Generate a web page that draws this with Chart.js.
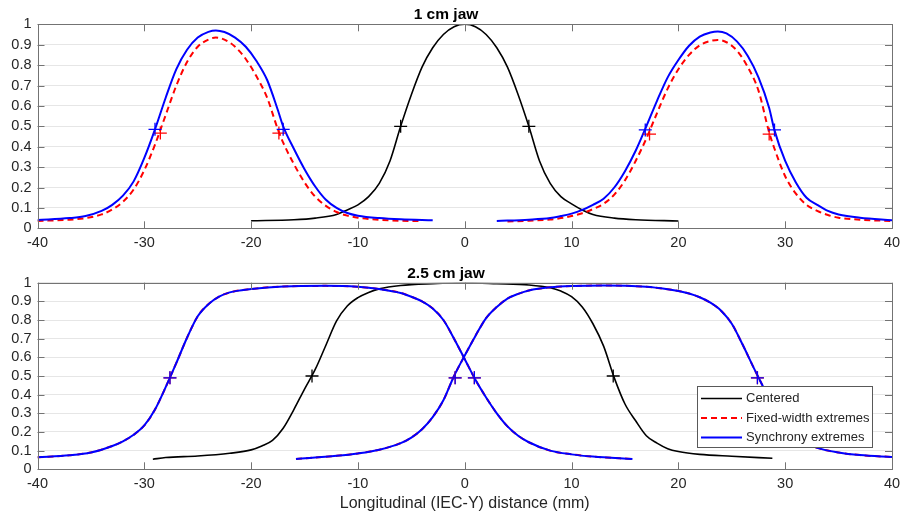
<!DOCTYPE html>
<html>
<head>
<meta charset="utf-8">
<script src="https://cdn.jsdelivr.net/npm/chart.js@4.4.1/dist/chart.umd.min.js"></script>
<style>
  html, body { margin: 0; padding: 0; background: #fff; }
  #wrap { position: relative; width: 910px; height: 516px; }
  canvas { position: absolute; left: 0; }
</style>
</head>
<body>
<div id="wrap">
  <canvas id="topChart" width="910" height="250" style="top:0"></canvas>
  <canvas id="bottomChart" width="910" height="266" style="top:250px"></canvas>
</div>
<script>
// -------- 1 cm jaw (top panel) --------
const topCenteredX = [-20, -16, -14, -12, -11, -10, -9, -8, -7, -6, -5, -4, -3, -2, -1, 0, 1, 2, 3, 4, 5, 6, 7, 8, 9, 10, 11, 12, 14, 16, 20];
const topCenteredY = [0.037, 0.042, 0.05, 0.068, 0.09, 0.115, 0.155, 0.22, 0.33, 0.5, 0.655, 0.79, 0.885, 0.95, 0.988, 1.0, 0.988, 0.95, 0.885, 0.79, 0.655, 0.5, 0.33, 0.22, 0.155, 0.12, 0.09, 0.068, 0.05, 0.042, 0.036];

const topSyncLX = [-40, -37, -35.5, -34, -33, -32, -31, -30, -29, -28, -27, -26, -25, -24, -23.3, -22.5, -21.5, -20.5, -19.5, -18.5, -17.5, -17, -16, -15, -14, -13, -12, -11, -10, -8, -6, -3];
const topSyncLY = [0.041, 0.05, 0.06, 0.085, 0.115, 0.16, 0.23, 0.345, 0.485, 0.64, 0.78, 0.875, 0.935, 0.963, 0.97, 0.962, 0.935, 0.89, 0.82, 0.727, 0.58, 0.5, 0.39, 0.29, 0.205, 0.14, 0.1, 0.075, 0.062, 0.05, 0.044, 0.04];
const topFixedLX = [-40, -37, -35.5, -34, -33, -32, -31, -30, -29, -28, -27, -26, -25, -24, -23.3, -22.5, -21.5, -20.5, -19.5, -18.5, -17.5, -17, -16, -15, -14, -13, -12, -11, -10, -8, -6, -4];
const topFixedLY = [0.036, 0.042, 0.05, 0.068, 0.092, 0.13, 0.19, 0.285, 0.41, 0.555, 0.7, 0.815, 0.89, 0.925, 0.935, 0.925, 0.89, 0.83, 0.745, 0.64, 0.485, 0.42, 0.315, 0.225, 0.155, 0.11, 0.08, 0.062, 0.052, 0.042, 0.037, 0.035];

const topSyncRX = [3, 6, 8, 9, 10, 11, 12, 13, 14, 15, 16, 17, 18, 19, 20, 21, 22, 23, 23.7, 24.5, 25.5, 26.5, 27.5, 28.5, 29, 30, 31, 32, 33, 34, 35, 37, 40];
const topSyncRY = [0.036, 0.042, 0.05, 0.06, 0.072, 0.09, 0.115, 0.145, 0.2, 0.28, 0.38, 0.5, 0.625, 0.74, 0.825, 0.895, 0.94, 0.96, 0.965, 0.955, 0.915, 0.845, 0.74, 0.59, 0.48, 0.33, 0.225, 0.15, 0.115, 0.085, 0.068, 0.052, 0.04];
const topFixedRX = [4, 6, 8, 9, 10, 11, 12, 13, 14, 15, 16, 17, 18, 19, 20, 21, 22, 23, 23.7, 24.5, 25.5, 26.5, 27.5, 28.5, 29, 30, 31, 32, 33, 34, 35, 37, 40];
const topFixedRY = [0.033, 0.037, 0.043, 0.05, 0.06, 0.074, 0.094, 0.12, 0.165, 0.235, 0.33, 0.44, 0.565, 0.685, 0.78, 0.85, 0.897, 0.918, 0.923, 0.912, 0.87, 0.79, 0.675, 0.47, 0.39, 0.255, 0.17, 0.115, 0.085, 0.065, 0.052, 0.042, 0.036];

// half-maximum markers
const topCenteredHalfX = [-6, 6];
const topCenteredHalfY = [0.5, 0.5];
const topSyncHalfX = [-29, -17, 16.9, 29];
const topSyncHalfY = [0.485, 0.485, 0.482, 0.482];
const topFixedHalfX = [-28.5, -17.4, 17.3, 28.5];
const topFixedHalfY = [0.467, 0.467, 0.462, 0.462];

// -------- 2.5 cm jaw (bottom panel) --------
const botCenteredX = [-29.2, -28, -25, -22, -20, -19, -18, -17, -16, -15, -14, -13, -12, -11, -10, -9, -8, -6, -3, 0, 3, 6, 8, 9, 10, 11, 12, 13, 14, 15, 16, 17, 18, 19, 20, 22, 25, 28.8];
const botCenteredY = [0.054, 0.063, 0.071, 0.086, 0.104, 0.125, 0.155, 0.22, 0.32, 0.43, 0.535, 0.665, 0.795, 0.875, 0.92, 0.948, 0.967, 0.985, 0.995, 1.0, 0.995, 0.988, 0.973, 0.955, 0.925, 0.87, 0.78, 0.66, 0.49, 0.35, 0.26, 0.18, 0.14, 0.11, 0.095, 0.08, 0.07, 0.059];

const botSyncLX = [-40, -37, -35, -33, -32, -31, -30, -29, -28, -27, -26, -25, -24, -23, -22, -20, -17, -13, -10, -8, -6, -5, -4, -3, -2, -1, 0, 1, 2, 3, 4, 5, 6, 8, 10, 12, 15.7];
const botSyncLY = [0.064, 0.075, 0.09, 0.125, 0.15, 0.185, 0.235, 0.32, 0.44, 0.57, 0.705, 0.82, 0.885, 0.925, 0.948, 0.966, 0.98, 0.983, 0.978, 0.966, 0.945, 0.925, 0.9, 0.862, 0.8, 0.7, 0.59, 0.48, 0.385, 0.3, 0.23, 0.18, 0.145, 0.1, 0.08, 0.068, 0.055];
const botSyncRX = [-15.8, -12, -10, -8, -6, -5, -4, -3, -2, -1, 0, 1, 2, 3, 4, 5, 6, 8, 10, 13, 17, 19, 20, 21, 22, 23, 24, 25, 26, 27, 28, 29, 30, 31, 32, 33, 35, 37, 40];
const botSyncRY = [0.055, 0.072, 0.085, 0.105, 0.14, 0.17, 0.215, 0.28, 0.37, 0.5, 0.61, 0.715, 0.81, 0.87, 0.915, 0.94, 0.958, 0.975, 0.982, 0.985, 0.978, 0.965, 0.956, 0.942, 0.922, 0.893, 0.85, 0.78, 0.67, 0.55, 0.435, 0.32, 0.235, 0.18, 0.14, 0.115, 0.09, 0.076, 0.066];
// fixed-width extremes lie on top of the synchrony curves in this panel
const botFixedLX = botSyncLX, botFixedLY = botSyncLY;
const botFixedRX = botSyncRX, botFixedRY = botSyncRY;

const botCenteredHalfX = [-14.3, 13.9];
const botCenteredHalfY = [0.5, 0.5];
const botSyncHalfX = [-27.6, -0.9, 0.9, 27.4];
const botSyncHalfY = [0.49, 0.49, 0.49, 0.49];
const botFixedHalfX = [-27.6, -0.9, 0.9, 27.4];
const botFixedHalfY = [0.49, 0.49, 0.49, 0.49];

const legendLabels = ['Centered', 'Fixed-width extremes', 'Synchrony extremes'];

// -------- styling --------
const FONT = '"Liberation Sans", Arial, Helvetica, sans-serif';
const TEXT = '#262626';
const BLACK = '#000000', RED = '#ff0000', BLUE = '#0000ff';

const pts = (xs, ys) => xs.map((x, i) => ({ x, y: ys[i] }));

function curve(xs, ys, color, order, dashed) {
    return {
        data: pts(xs, ys),
        showLine: true,
        borderColor: color,
        borderWidth: color === BLACK ? 1.6 : 2,
        borderDash: dashed ? [6, 4] : [],
        pointRadius: 0,
        cubicInterpolationMode: 'monotone',
        order
    };
}

function marks(xs, ys, color, order) {
    return {
        data: pts(xs, ys),
        showLine: false,
        pointStyle: 'cross',
        pointRadius: 6.5,
        pointBorderWidth: 1.3,
        borderColor: color,
        backgroundColor: color,
        order
    };
}

// MATLAB-like box with inward tick marks
const boxAxes = {
    id: 'boxAxes',
    afterDatasetsDraw(chart) {
        const { ctx, chartArea: a, scales: { x, y } } = chart;
        const len = 7;
        ctx.save();
        ctx.strokeStyle = '#737373';
        ctx.lineWidth = 1;
        ctx.beginPath();
        x.ticks.forEach(t => {
            const px = Math.round(x.getPixelForValue(t.value)) + 0.5;
            ctx.moveTo(px, a.bottom); ctx.lineTo(px, a.bottom - len);
            ctx.moveTo(px, a.top); ctx.lineTo(px, a.top + len);
        });
        y.ticks.forEach(t => {
            const py = Math.round(y.getPixelForValue(t.value)) + 0.5;
            ctx.moveTo(a.left, py); ctx.lineTo(a.left + len, py);
            ctx.moveTo(a.right, py); ctx.lineTo(a.right - len, py);
        });
        ctx.stroke();
        ctx.strokeRect(Math.round(a.left) + 0.5, Math.round(a.top) + 0.5,
            Math.round(a.right) - Math.round(a.left), Math.round(a.bottom) - Math.round(a.top));
        ctx.restore();
    }
};

// legend box inside the lower panel
const legendBox = {
    id: 'legendBox',
    afterDraw(chart) {
        const { ctx, chartArea: a } = chart;
        const x0 = Math.round(a.right - 195), y0 = Math.round(a.bottom - 83);
        const styles = [
            { color: BLACK, width: 1.6, dash: [] },
            { color: RED, width: 2, dash: [6, 4] },
            { color: BLUE, width: 2, dash: [] }
        ];
        ctx.save();
        ctx.fillStyle = '#fff';
        ctx.fillRect(x0, y0, 175, 61);
        ctx.strokeStyle = '#595959';
        ctx.lineWidth = 1;
        ctx.strokeRect(x0 + 0.5, y0 + 0.5, 175, 61);
        ctx.font = '13px ' + FONT;
        ctx.textBaseline = 'middle';
        legendLabels.forEach((label, i) => {
            const cy = y0 + 12.5 + i * 19.5;
            const s = styles[i];
            ctx.beginPath();
            ctx.strokeStyle = s.color;
            ctx.lineWidth = s.width;
            ctx.setLineDash(s.dash);
            ctx.moveTo(x0 + 4, cy);
            ctx.lineTo(x0 + 45, cy);
            ctx.stroke();
            ctx.setLineDash([]);
            ctx.fillStyle = TEXT;
            ctx.fillText(label, x0 + 49, cy);
        });
        ctx.restore();
    }
};

function makeOptions(title, titlePad, xHeight, tickPad, xTitle) {
    return {
        responsive: false,
        animation: false,
        layout: { padding: { left: 0, right: 18, top: 0, bottom: 0 } },
        plugins: {
            legend: { display: false },
            tooltip: { enabled: false },
            title: {
                display: true,
                text: title,
                color: '#000',
                font: { family: FONT, size: 15.5, weight: 'bold', lineHeight: 1.2 },
                padding: titlePad
            }
        },
        scales: {
            x: {
                type: 'linear',
                min: -40, max: 40,
                grid: { display: false, drawTicks: false },
                border: { display: false },
                ticks: { stepSize: 10, padding: tickPad, autoSkip: false, maxRotation: 0, color: TEXT, font: { family: FONT, size: 14.5 } },
                title: xTitle ? {
                    display: true, text: xTitle, color: TEXT,
                    font: { family: FONT, size: 16, lineHeight: 1.2 },
                    padding: { top: 0, bottom: 3 }
                } : { display: false },
                afterFit: s => { s.height = xHeight; }
            },
            y: {
                min: 0, max: 1,
                grid: { color: '#e6e6e6', drawTicks: false },
                border: { display: false },
                ticks: {
                    stepSize: 0.1, padding: 6, autoSkip: false, color: TEXT,
                    font: { family: FONT, size: 14.5 },
                    callback: v => String(+v.toFixed(1))
                },
                afterFit: s => { s.width = 37.5; }
            }
        }
    };
}

new Chart(document.getElementById('topChart').getContext('2d'), {
    type: 'scatter',
    data: {
        datasets: [
            marks(topSyncHalfX, topSyncHalfY, BLUE, 0),
            marks(topFixedHalfX, topFixedHalfY, RED, 1),
            marks(topCenteredHalfX, topCenteredHalfY, BLACK, 2),
            curve(topSyncLX, topSyncLY, BLUE, 3),
            curve(topSyncRX, topSyncRY, BLUE, 3),
            curve(topFixedLX, topFixedLY, RED, 4, true),
            curve(topFixedRX, topFixedRY, RED, 4, true),
            curve(topCenteredX, topCenteredY, BLACK, 5)
        ]
    },
    options: makeOptions('1 cm jaw', { top: 5.5, bottom: 0.2 }, 21.7, 6, null),
    plugins: [boxAxes]
});

new Chart(document.getElementById('bottomChart').getContext('2d'), {
    type: 'scatter',
    data: {
        datasets: [
            marks(botSyncHalfX, botSyncHalfY, BLUE, 0),
            marks(botFixedHalfX, botFixedHalfY, RED, 1),
            marks(botCenteredHalfX, botCenteredHalfY, BLACK, 2),
            curve(botSyncLX, botSyncLY, BLUE, 3),
            curve(botSyncRX, botSyncRY, BLUE, 3),
            curve(botFixedLX, botFixedLY, RED, 4, true),
            curve(botFixedRX, botFixedRY, RED, 4, true),
            curve(botCenteredX, botCenteredY, BLACK, 5)
        ]
    },
    options: makeOptions('2.5 cm jaw', { top: 14.1, bottom: 0 }, 46.7, 5.5, 'Longitudinal (IEC-Y) distance (mm)'),
    plugins: [boxAxes, legendBox]
});
</script>
</body>
</html>
